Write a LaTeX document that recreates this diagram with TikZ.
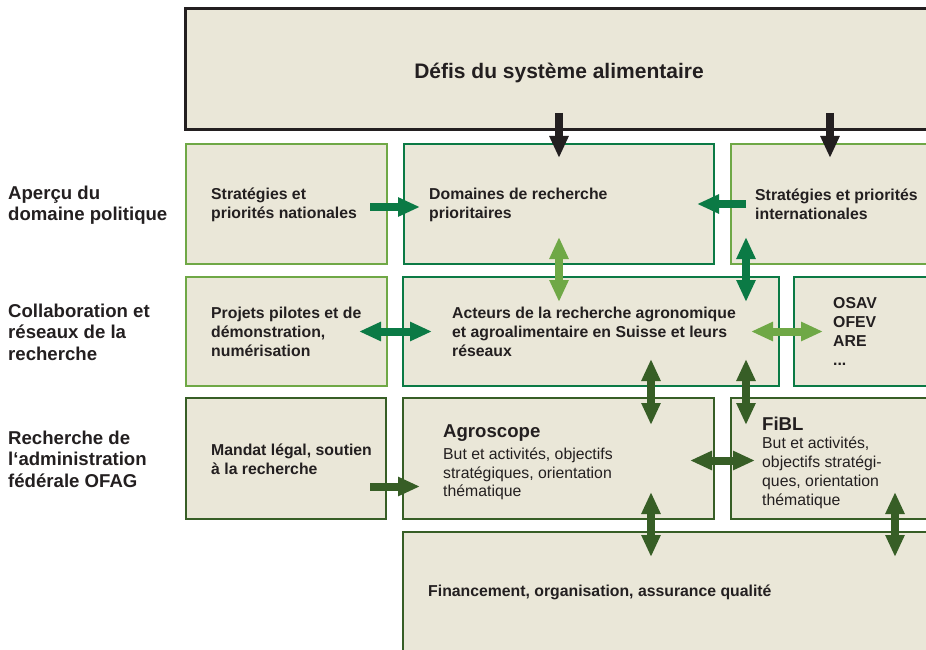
\documentclass[tikz,border=0pt]{standalone}
\usepackage{fontspec}
\setmainfont{Liberation Sans}
\usetikzlibrary{positioning,arrows.meta}
\definecolor{beige}{HTML}{EAE7D8}
\definecolor{ink}{HTML}{231F20}
\definecolor{lgreen}{HTML}{6FA846}
\definecolor{dgreen}{HTML}{0B7A45}
\definecolor{olive}{HTML}{375E26}
\begin{document}
\begin{tikzpicture}[x=1pt, y=-1pt,
	box/.style={draw, fill=beige, line width=2.5pt, outer sep=0pt, inner sep=0pt, anchor=north west},
	txt/.style={align=left, inner sep=0pt, text=ink, font=\fontsize{15.8}{19}\selectfont\bfseries},
	desc/.style={align=left, inner sep=0pt, text=ink, font=\fontsize{15.8}{18.7}\selectfont},
	side/.style={align=left, inner sep=0pt, anchor=west, text=ink, font=\fontsize{18.6}{21.6}\selectfont\bfseries},
	fat/.style={line width=8pt, -{Triangle[length=22pt,width=18pt]}},
	dfat/.style={line width=8pt, {Triangle[length=22pt,width=18pt]}-{Triangle[length=22pt,width=18pt]}}]
	\path[use as bounding box] (0,0) rectangle (926,650);
	\clip (0,0) rectangle (926,650);
	% boxes
	\node[box, draw=ink, line width=3pt, minimum width=748pt, minimum height=121pt] (top) at (185,9) {};
	\node[box, draw=lgreen, minimum width=201pt, minimum height=120pt] (natl) at (186,144) {};
	\node[box, draw=dgreen, minimum width=310pt, minimum height=120pt] (prio) at (404,144) {};
	\node[box, draw=lgreen, minimum width=198pt, minimum height=120pt] (intl) at (731,144) {};
	\node[box, draw=lgreen, minimum width=201pt, minimum height=109pt] (pilot) at (186,277) {};
	\node[box, draw=dgreen, minimum width=376pt, minimum height=109pt] (acteurs) at (403,277) {};
	\node[box, draw=dgreen, minimum width=150pt, minimum height=109pt] (offices) at (794,277) {};
	\node[box, draw=olive, minimum width=200pt, minimum height=121pt] (mandat) at (186,398) {};
	\node[box, draw=olive, minimum width=311pt, minimum height=121pt] (agro) at (403,398) {};
	\node[box, draw=olive, minimum width=200pt, minimum height=121pt] (fibl) at (731,398) {};
	\node[box, draw=olive, minimum width=540pt, minimum height=125pt] (finance) at (403,532) {};
	% texts
	\node[text=ink, font=\fontsize{21}{25}\selectfont\bfseries, yshift=-3pt] (titel) at (top) {Défis du système alimentaire};
	\node[txt, right=25pt of natl.west, yshift=-1pt] (natltxt) {Stratégies et\\priorités nationales};
	\node[txt, right=25pt of prio.west, yshift=-1pt] (priotxt) {Domaines de recherche\\prioritaires};
	\node[txt, right=24pt of intl.west] (intltxt) {Stratégies et priorités\\internationales};
	\node[txt, right=25pt of pilot.west] (pilottxt) {Projets pilotes et de\\démonstration,\\numérisation};
	\node[txt, right=49pt of acteurs.west] (acteurstxt) {Acteurs de la recherche agronomique\\et agroalimentaire en Suisse et leurs\\réseaux};
	\node[txt, right=39pt of offices.west] (officestxt) {OSAV\\OFEV\\ARE\\...};
	\node[txt, right=25pt of mandat.west, yshift=-1pt] (mandattxt) {Mandat légal, soutien\\à la recherche};
	\node[desc, right=40pt of agro.west, yshift=-4pt] (agrotxt) {{\fontsize{18.6}{22}\selectfont\bfseries Agroscope}\\[3pt]But et activités, objectifs\\stratégiques, orientation\\thématique};
	\node[desc, right=31pt of fibl.west, yshift=-4pt] (fibltxt) {{\fontsize{18.6}{22}\selectfont\bfseries FiBL}\\But et activités,\\objectifs stratégi-\\ques, orientation\\thématique};
	\node[txt, right=25pt of finance.west, yshift=2pt] (financetxt) {Financement, organisation, assurance qualité};
	\node[side] (apercu) at (8,205) {Aperçu du\\domaine politique};
	\node[side] (collab) at (8,332) {Collaboration et\\réseaux de la\\recherche};
	\node[side] (admin) at (8,459) {Recherche de\\l‘administration\\fédérale OFAG};
	% arrows
	\draw[fat, ink] ([yshift=17pt]top.south -| prio.north) -- ([yshift=-14pt]prio.north);
	\draw[fat, ink] ([yshift=17pt]top.south -| intl.north) -- ([yshift=-14pt]intl.north);
	\draw[fat, dgreen] ([xshift=-17pt,yshift=-3pt]natl.east) -- ([xshift=16pt,yshift=-3pt]prio.west);
	\draw[fat, dgreen] ([xshift=15pt]intl.west) -- ([xshift=-17pt]prio.east);
	\draw[dfat, lgreen] ([yshift=27pt]prio.south) -- ([yshift=-25pt]prio.south |- acteurs.north);
	\draw[dfat, dgreen] ([xshift=15pt,yshift=27pt]intl.south west) -- ([xshift=15pt,yshift=-25pt]intl.south west |- acteurs.north);
	\draw[dfat, dgreen] ([xshift=-28pt]pilot.east) -- ([xshift=29pt]acteurs.west);
	\draw[dfat, lgreen] ([xshift=-28pt]acteurs.east) -- ([xshift=29pt]offices.west);
	\draw[dfat, olive] ([xshift=-63pt,yshift=27pt]agro.north east |- acteurs.south) -- ([xshift=-63pt,yshift=-27pt]agro.north east);
	\draw[dfat, olive] ([xshift=15pt,yshift=27pt]fibl.north west |- acteurs.south) -- ([xshift=15pt,yshift=-27pt]fibl.north west);
	\draw[dfat, olive] ([xshift=-24pt,yshift=-2pt]agro.east) -- ([xshift=24pt,yshift=-2pt]fibl.west);
	\draw[fat, olive] ([xshift=-16pt,yshift=-28pt]mandat.east) -- ([xshift=17pt,yshift=-28pt]agro.west);
	\draw[dfat, olive] ([xshift=-63pt,yshift=27pt]agro.south east) -- ([xshift=-63pt,yshift=-25pt]agro.south east |- finance.north);
	\draw[dfat, olive] ([xshift=164pt,yshift=27pt]fibl.south west) -- ([xshift=164pt,yshift=-25pt]fibl.south west |- finance.north);
\end{tikzpicture}
\end{document}
